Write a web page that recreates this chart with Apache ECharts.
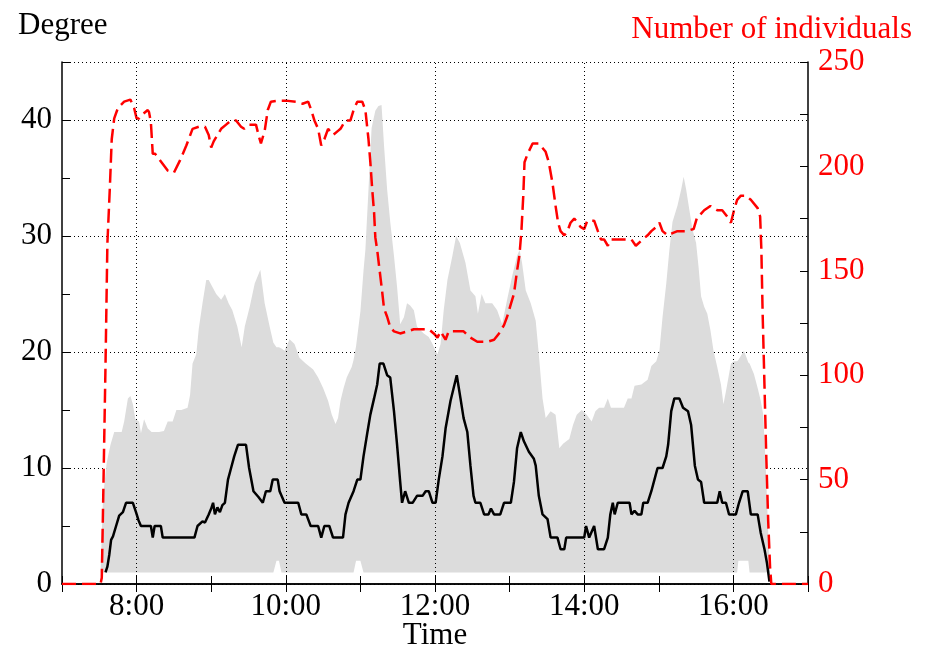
<!DOCTYPE html>
<html>
<head>
<meta charset="utf-8">
<title>Degree and number of individuals</title>
<script src="https://cdn.jsdelivr.net/npm/echarts@6/dist/echarts.min.js"></script>
<style>
  html, body { margin: 0; padding: 0; background: #fff; }
  #chart { width: 937px; height: 650px; }
</style>
</head>
<body>
<div id="chart"></div>
<script>
// all times are minutes after 7:00

// grey band: max / min degree
const bandTime = [
  31, 33, 36, 39, 42, 48, 50, 53, 55, 57,
  59, 62, 63.5, 66, 69, 72, 78, 82, 85, 89,
  92, 96, 101, 103, 105, 108, 110, 113, 116, 118,
  121, 124, 128, 131, 134, 137, 141, 144.5, 147, 151,
  155, 159.5, 163, 167, 170, 172.5, 174.5, 176.5, 179, 183,
  187, 191, 196, 202, 206, 210, 214, 217, 220, 222,
  224, 226.5, 229, 233, 234.5, 236.5, 238.5, 240, 242.5, 244,
  246.5, 249, 252, 254.5, 257, 259, 261.5, 264, 267, 269.5,
  272, 275, 277.5, 280, 283, 285.5, 288, 291, 295, 298,
  300.5, 302, 304.5, 307, 310, 314, 317, 320, 324.5, 328.5,
  332.5, 334.5, 337.5, 340.5, 346, 350, 354, 358, 362, 366,
  368, 370, 373, 377, 381, 383.5, 386.5, 389, 393, 397,
  400, 403, 408, 411, 414, 418, 422, 426, 429, 432,
  436, 439, 441.5, 452, 455, 458, 460.5, 466, 471, 474,
  478, 480.5, 483, 486, 488.5, 491, 495, 498, 500, 502,
  504.5, 507, 510, 512, 514, 516.5, 519, 521.5, 524, 527,
  530, 532, 534.5, 538, 540.5, 543, 544, 548.5, 552, 553,
  556.5, 559.5, 562, 564, 566, 568, 569.5
];
const bandMax = [
  1, 7.5, 10.5, 12, 13.1, 13.1, 14, 16, 16.2, 15.5,
  14.2, 14, 13, 14.2, 13.4, 13.1, 13.1, 13.2, 14, 14,
  15, 15, 15.2, 16.3, 19, 19.8, 22, 24.2, 26.2, 26.2,
  25.6, 25, 24.5, 25, 24.2, 23.6, 22.2, 20.4, 22.2, 23.9,
  25.9, 27.1, 24.2, 22.2, 20.8, 20.4, 20.4, 20.3, 20.1, 21.1,
  20.7, 19.5, 19, 18.5, 17.8, 16.9, 15.8, 14.6, 13.8, 14.3,
  15.8, 16.9, 17.8, 18.7, 19.3, 20.5, 22.2, 23.5, 27, 28.8,
  34, 39.3, 40.8, 41.2, 41.3, 37.8, 34, 31.2, 28.3, 25.6,
  22.4, 23, 24.2, 24, 23.6, 22.2, 21.9, 21.6, 21.3, 20.7,
  20.1, 19.8, 20.7, 23.6, 26.2, 28.3, 30, 29.4, 27.7, 25.3,
  24.8, 23.3, 25, 24.2, 24.2, 23.6, 22.4, 24.5, 26.5, 28.3,
  28.8, 27.7, 25.3, 24.2, 22.7, 19.8, 16, 14.3, 14.9, 14.6,
  11.7, 12.1, 12.5, 13.7, 14.6, 15, 14.6, 14, 14.9, 15.2,
  15.2, 16, 15.2, 15.2, 16, 16, 17.1, 17.2, 17.6, 18.8,
  19.2, 20.1, 23, 25.9, 28.8, 31.2, 32.6, 34, 35.1, 34,
  32.3, 30.6, 29.4, 27.3, 24.8, 23.9, 23.3, 21.9, 20.1, 18.7,
  17.2, 15.5, 16.9, 19, 19.2, 19.2, 19.3, 20.1, 19.1, 19,
  18.1, 16.9, 15.8, 14.6, 10.2, 4.4, 1
];
const bandMin = [
  1, 1, 1, 1, 1, 1, 1, 1, 1, 1,
  1, 1, 1, 1, 1, 1, 1, 1, 1, 1,
  1, 1, 1, 1, 1, 1, 1, 1, 1, 1,
  1, 1, 1, 1, 1, 1, 1, 1, 1, 1,
  1, 1, 1, 1, 1, 2, 2, 1, 1, 1,
  1, 1, 1, 1, 1, 1, 1, 1, 1, 1,
  1, 1, 1, 1, 1, 2, 2, 2, 1, 1,
  1, 1, 1, 1, 1, 1, 1, 1, 1, 1,
  1, 1, 1, 1, 1, 1, 1, 1, 1, 1,
  1, 1, 1, 1, 1, 1, 1, 1, 1, 1,
  1, 1, 1, 1, 1, 1, 1, 1, 1, 1,
  1, 1, 1, 1, 1, 1, 1, 1, 1, 1,
  1, 1, 1, 1, 1, 1, 1, 1, 1, 1,
  1, 1, 1, 1, 1, 1, 1, 1, 1, 1,
  1, 1, 1, 1, 1, 1, 1, 1, 1, 1,
  1, 1, 1, 1, 1, 1, 1, 1, 1, 1,
  1, 1, 1, 1, 1, 1, 2, 2, 2, 1,
  1, 1, 1, 1, 1, 1, 1
];

// black line: mean degree
const meanTime = [
  35, 36.5, 38, 39.5, 41, 43.5, 46, 49, 51.5, 57,
  59.5, 61.5, 63.5, 71.5, 73, 74.5, 79.5, 81, 106.5, 109,
  113, 115, 118, 120, 121.5, 123, 125, 127, 129, 131,
  133.5, 136, 138.5, 141.5, 148, 150.5, 154, 158, 161.5, 164,
  167.5, 169.5, 173.5, 175, 179, 190, 192.5, 196.5, 200, 206,
  208.5, 211, 215, 218, 226, 228, 230.5, 234.5, 237.5, 240,
  242.5, 245.5, 248, 251, 253.5, 255.5, 258.5, 261.5, 264, 267,
  269.5, 272, 273.5, 276, 279, 282, 285.5, 290, 292.5, 295,
  298, 300.5, 303, 306, 308.5, 312.5, 315, 317.5, 320.5, 323,
  326, 328.5, 331, 332.5, 336.5, 339.5, 343, 345, 347.5, 352.5,
  355.5, 361, 363.5, 366, 369, 371.5, 375.5, 379.5, 381, 383.5,
  386.5, 390.5, 393, 398.5, 401, 404, 405.5, 420, 421.5, 424,
  428, 431, 436, 439, 441, 443, 444.5, 447, 456.5, 458,
  460.5, 463, 466, 467.5, 471, 474, 476.5, 479, 483, 486,
  487.5, 490, 492.5, 496.5, 499.5, 503.5, 506, 509, 511.5, 514,
  516.5, 527, 529, 531, 534, 536.5, 542, 544.5, 547.5, 551.5,
  554, 559.5, 562, 565, 567, 569
];
const meanDegree = [
  1, 1.5, 2.5, 3.8, 4.1, 5, 5.9, 6.2, 7, 7,
  6.2, 5.5, 5, 5, 4, 5, 5, 4, 4, 5,
  5.4, 5.3, 6, 6.5, 7, 6, 6.6, 6.2, 6.8, 7,
  9, 10, 11, 12, 12, 10, 8, 7.5, 7, 8,
  8, 9, 9, 8, 7, 7, 6, 6, 5, 5,
  4, 5, 5, 4, 4, 6, 7, 8, 9, 9,
  11, 13, 14.6, 16, 17.2, 19, 19, 18, 17.8, 14.9,
  12, 8.8, 7, 8, 7, 7, 7.6, 7.6, 8, 8,
  7, 7, 9, 11, 13.4, 15.8, 16.9, 18, 16, 14.3,
  13.1, 10.2, 7.6, 7, 7, 6, 6, 6.5, 6, 6,
  7, 7, 8.8, 11.7, 13.1, 12.3, 11.4, 10.8, 10.2, 7.6,
  6, 5.6, 4, 4, 3, 3, 4, 4, 5, 4,
  5, 3, 3, 4, 6, 7, 6, 7, 7, 6,
  6.3, 6, 6, 7, 7, 8, 9, 10, 10, 11,
  12, 14.9, 16, 16, 15.2, 14.9, 13.7, 10.2, 9, 8.8,
  7, 7, 8, 7, 7, 6, 6, 7, 8, 8,
  6, 6, 4.4, 3, 1.8, 0.2
];

// red dashed line: number of individuals
const popTime = [
  0, 31, 32, 33, 35, 36.5, 38.5, 40, 42, 45,
  50, 55, 58, 60, 62, 65, 69, 70, 71.5, 73,
  75, 80, 85, 90, 95, 100, 105, 110, 115, 118,
  120, 122, 124, 128, 132, 136, 140, 144, 146.5, 150.5,
  156, 158.5, 160, 163, 165.5, 168, 174, 180, 188, 193.5,
  198, 200.5, 203, 206, 208.5, 211, 214, 218, 222, 224,
  228, 232, 234.5, 237.5, 241.5, 244, 246.5, 248, 249.5, 251,
  252, 253.5, 255.5, 257.5, 259, 261.5, 264, 267, 272, 278,
  283, 295, 299, 302, 304.5, 308.5, 311, 323, 328.5, 334,
  342, 347.5, 351.5, 355.5, 358, 361, 363.5, 366, 368, 369.5,
  371, 372, 374.5, 378.5, 383.5, 389, 391.5, 394.5, 397, 399,
  401, 404, 406.5, 409, 412, 415, 417, 420, 422.5, 428,
  431, 433.5, 436, 439, 441.5, 447, 455, 458, 461.5, 467,
  471, 474, 478, 480.5, 483, 487, 491, 495, 502, 508,
  511, 513.5, 516.5, 521.5, 527, 531, 535, 538, 540.5, 543,
  546, 550, 554, 559.5, 561.5, 562.5, 563.5, 565, 566.5, 568,
  569.5, 570.5, 600
];
const population = [
  0, 0, 3, 36, 105, 163, 190, 213, 223, 228,
  231, 232, 228, 223, 223, 225, 227, 226, 221, 206,
  206, 202, 198, 197, 203, 210, 218, 219, 219, 215,
  209, 212, 214, 218, 220, 222, 222, 219, 218, 220,
  220, 214, 211, 217, 227, 231, 231.5, 231.5, 231, 230,
  231, 227, 222, 218, 210, 213, 218, 215, 217, 218,
  222, 222, 227, 231, 231, 227, 213, 202, 189, 178,
  166, 160, 150, 140, 132, 128, 123, 121, 120, 121,
  122, 122, 120, 118, 121, 117, 121, 121, 118, 116,
  116, 117, 120, 124, 128, 134, 139, 150, 158, 169,
  186, 202, 206, 211, 211, 207, 202, 192, 181, 173,
  169, 167, 169, 173, 175, 173, 171, 170, 174, 174,
  169, 165, 165, 162, 165, 165, 165, 165, 162, 165,
  167, 169, 171, 173, 169, 167, 168, 169, 169, 170,
  176, 177, 179, 181, 179, 179, 176, 173, 179, 184,
  186, 186, 184, 180, 176, 160, 130, 95, 60, 30,
  8, 0, 0
];

// tick labels
const hourLabels = [8, 10, 12, 14, 16];
const degreeLabels = [0, 10, 20, 30, 40];
const popLabels = [0, 50, 100, 150, 200, 250];

const toHour = (m) => 7 + m / 60;
const pairs = (times, values) => times.map((t, i) => [toHour(t), values[i]]);

const FONT = "'Liberation Serif', 'DejaVu Serif', serif";
const SIZE = 31;

const chart = echarts.init(document.getElementById('chart'));

const tickStyle = { show: true, inside: true, length: 8, lineStyle: { color: '#000', width: 1 } };
const lineStyle = { show: true, lineStyle: { color: '#000', width: 1.5 } };

const options = {
  animation: false,
  backgroundColor: '#fff',
  grid: { left: 62, right: 129, top: 62, bottom: 66, containLabel: false, outerBoundsMode: 'none' },
  graphic: [
    {
      type: 'text', left: 18, top: 10,
      style: { text: 'Degree', fill: '#000', font: SIZE + 'px ' + FONT }
    },
    {
      type: 'text', right: 25, top: 14,
      style: { text: 'Number of individuals', fill: '#ff0000', font: SIZE + 'px ' + FONT }
    }
  ],
  xAxis: [
    {
      type: 'value', position: 'bottom', min: 7, max: 17, interval: 1,
      axisLine: lineStyle, axisTick: tickStyle, splitLine: { show: false },
      axisLabel: {
        margin: 7, color: '#000', fontFamily: FONT, fontSize: SIZE,
        formatter: (v) => hourLabels.includes(v) ? v + ':00' : ''
      },
      name: 'Time', nameLocation: 'middle', nameGap: 36, nameMoveOverlap: false,
      nameTextStyle: { color: '#000', fontFamily: FONT, fontSize: SIZE }
    },
    {
      type: 'value', position: 'top', min: 7, max: 17, interval: 1,
      axisLine: lineStyle, axisTick: tickStyle, axisLabel: { show: false },
      splitLine: { show: false }
    }
  ],
  yAxis: [
    {
      type: 'value', position: 'left', min: 0, max: 45, interval: 5,
      axisLine: lineStyle, axisTick: tickStyle, splitLine: { show: false },
      axisLabel: {
        margin: 10, color: '#000', fontFamily: FONT, fontSize: SIZE,
        formatter: (v) => degreeLabels.includes(v) ? String(v) : ''
      }
    },
    {
      type: 'value', position: 'right', min: 0, max: 250, interval: 25,
      axisLine: lineStyle, axisTick: tickStyle, splitLine: { show: false },
      axisLabel: {
        margin: 10, color: '#ff0000', fontFamily: FONT, fontSize: SIZE,
        formatter: (v) => popLabels.includes(v) ? String(v) : ''
      }
    },
    {
      // only for the dotted horizontal grid
      type: 'value', position: 'left', min: 0, max: 45, interval: 10,
      axisLine: { show: false }, axisTick: { show: false }, axisLabel: { show: false },
      splitLine: { show: true, lineStyle: { color: '#000', width: 1, type: [1, 3] } }
    }
  ],
  series: [
    {
      // grey band between min and max degree
      name: 'degree range', type: 'custom', yAxisIndex: 0,
      data: bandTime.map((t, i) => [toHour(t), bandMax[i], bandMin[i]]),
      encode: { x: 0, y: [1, 2] },
      clip: true, silent: true,
      renderItem: (params, api) => {
        if (params.dataIndexInside !== 0) return null;
        const n = params.dataInsideLength;
        const upper = [];
        const lower = [];
        for (let i = 0; i < n; i++) {
          upper.push(api.coord([api.value(0, i), api.value(1, i)]));
          lower.unshift(api.coord([api.value(0, i), api.value(2, i)]));
        }
        return {
          type: 'polygon',
          shape: { points: upper.concat(lower) },
          style: { fill: '#dcdcdc' }
        };
      }
    },
    {
      name: 'mean degree', type: 'line', yAxisIndex: 0,
      data: pairs(meanTime, meanDegree),
      symbol: 'none', lineStyle: { color: '#000', width: 2.5 },
      markLine: {
        silent: true, symbol: 'none', label: { show: false },
        lineStyle: { color: '#000', width: 1, type: [1, 3] },
        data: hourLabels.map((h) => ({ xAxis: h }))
      }
    },
    {
      name: 'individuals', type: 'line', yAxisIndex: 1,
      data: pairs(popTime, population),
      symbol: 'none', lineStyle: { color: '#ff0000', width: 2.5, type: [14, 6] }
    }
  ]
};

chart.setOption(options);
</script>
</body>
</html>
